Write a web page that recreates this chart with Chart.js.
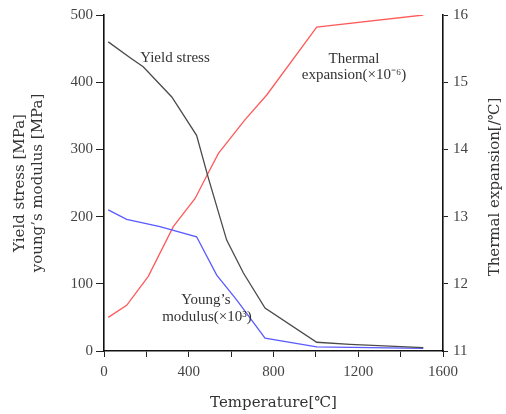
<!DOCTYPE html>
<html>
<head>
<meta charset="utf-8">
<script src="https://cdn.jsdelivr.net/npm/chart.js@4.4.0/dist/chart.umd.min.js"></script>
<style>
  html, body { margin: 0; padding: 0; background: #fff; }
  #wrap { width: 506px; height: 414px; }
</style>
</head>
<body>
<div id="wrap"><canvas id="myChart" width="506" height="414"></canvas></div>
<script>
// valores
const yieldTemps = [20, 130, 185, 320, 437, 492, 579, 658, 760, 1004, 1161, 1507];
const yieldStress = [460, 435, 423, 378, 321, 258, 165, 116, 64, 13, 10, 5];

const youngTemps = [20, 107, 264, 437, 532, 626, 760, 1004, 1507];
const youngModulus = [210, 196, 185, 170, 113, 76, 19, 6, 4];

const thermTemps = [20, 107, 209, 327, 430, 477, 540, 665, 768, 1004, 1507];
const thermalExp = [11.50, 11.68, 12.11, 12.85, 13.27, 13.56, 13.94, 14.44, 14.81, 15.82, 16.0];

const leftTicks = [0, 100, 200, 300, 400, 500];
const rightTicks = [11, 12, 13, 14, 15, 16];
const xTicks = [0, 400, 800, 1200, 1600];

// etiquetas dentro del grafico (temperatura, valor eje izquierdo)
const notes = [
    { text: 'Yield stress', x: 335, y: 436 },
    { text: 'Thermal', x: 1180, y: 434 },
    { text: 'expansion(×10⁻⁶)', x: 1180, y: 410 },
    { text: 'Young\u2019s', x: 481, y: 76 },
    { text: 'modulus(×10³)', x: 486, y: 51 }
];

const rightTitle = 'Thermal expansion[/℃]';

function toPoints(xs, ys) {
    return xs.map((x, i) => ({ x: x, y: ys[i] }));
}

const notesPlugin = {
    id: 'notes',
    afterDatasetsDraw(chart) {
        const ctx = chart.ctx;
        const sx = chart.scales.x;
        const sy = chart.scales.y;
        ctx.save();
        ctx.font = '15px "Liberation Serif", serif';
        ctx.fillStyle = '#333';
        ctx.textAlign = 'center';
        ctx.textBaseline = 'middle';
        notes.forEach(n => {
            ctx.fillText(n.text, sx.getPixelForValue(n.x), sy.getPixelForValue(n.y));
        });
        // titulo del eje derecho, leido de abajo hacia arriba
        const a = chart.chartArea;
        ctx.font = '15px "DejaVu Serif", serif';
        ctx.translate(chart.width - 11, (a.top + a.bottom) / 2 + 4);
        ctx.rotate(-Math.PI / 2);
        ctx.fillText(rightTitle, 0, 0);
        ctx.restore();
    }
};

const tickFont = { family: '"Liberation Serif", serif', size: 15 };
const titleFont = { family: '"DejaVu Serif", serif', size: 15 };

const ctx = document.getElementById('myChart').getContext('2d');
const myChart = new Chart(ctx, {
    type: 'line',
    data: {
        datasets: [
            {
                label: 'Yield stress',
                data: toPoints(yieldTemps, yieldStress),
                borderColor: '#4a4a4a',
                borderWidth: 1.3,
                pointRadius: 0,
                yAxisID: 'y'
            },
            {
                label: "Young's modulus",
                data: toPoints(youngTemps, youngModulus),
                borderColor: '#5a5aff',
                borderWidth: 1.3,
                pointRadius: 0,
                yAxisID: 'y'
            },
            {
                label: 'Thermal expansion',
                data: toPoints(thermTemps, thermalExp),
                borderColor: '#ff5a5a',
                borderWidth: 1.3,
                pointRadius: 0,
                yAxisID: 'y1'
            }
        ]
    },
    options: {
        responsive: false,
        animation: false,
        layout: { padding: { top: 15, left: 0, right: 0, bottom: 0 } },
        plugins: {
            legend: { display: false },
            tooltip: { enabled: false }
        },
        scales: {
            x: {
                type: 'linear',
                min: 0,
                max: 1600,
                afterFit: s => { s.height = 63; },
                afterBuildTicks: s => {
                    const t = [];
                    for (let v = 0; v <= 1600; v += 200) t.push({ value: v });
                    s.ticks = t;
                },
                ticks: {
                    font: tickFont,
                    color: '#444',
                    padding: 6,
                    maxRotation: 0,
                    autoSkip: false,
                    callback: v => xTicks.includes(v) ? String(v) : ''
                },
                grid: { drawOnChartArea: false, drawTicks: true, tickLength: 6, color: '#222' },
                border: { display: true, color: '#111', width: 1.6 },
                title: {
                    display: true,
                    text: 'Temperature[℃]',
                    font: titleFont,
                    color: '#333',
                    padding: { top: 0, bottom: 2 }
                }
            },
            y: {
                position: 'left',
                min: 0,
                max: 500,
                afterFit: s => { s.width = 104; },
                afterBuildTicks: s => { s.ticks = leftTicks.map(v => ({ value: v })); },
                ticks: { font: tickFont, color: '#444', padding: 3 },
                grid: { drawOnChartArea: false, drawTicks: true, tickLength: 8, color: '#222' },
                border: { display: true, color: '#111', width: 1.6 },
                title: {
                    display: true,
                    text: ['Yield stress [MPa]', 'young\u2019s modulus [MPa]'],
                    font: titleFont,
                    color: '#333',
                    padding: { top: 11, bottom: 0 }
                }
            },
            y1: {
                position: 'right',
                min: 11,
                max: 16,
                afterFit: s => { s.width = 63; },
                afterBuildTicks: s => { s.ticks = rightTicks.map(v => ({ value: v })); },
                ticks: { font: tickFont, color: '#444', padding: 5 },
                grid: { drawOnChartArea: false, drawTicks: true, tickLength: 5, color: '#222' },
                border: { display: true, color: '#111', width: 1.6 },
                title: { display: false }
            }
        }
    },
    plugins: [notesPlugin]
});
</script>
</body>
</html>
